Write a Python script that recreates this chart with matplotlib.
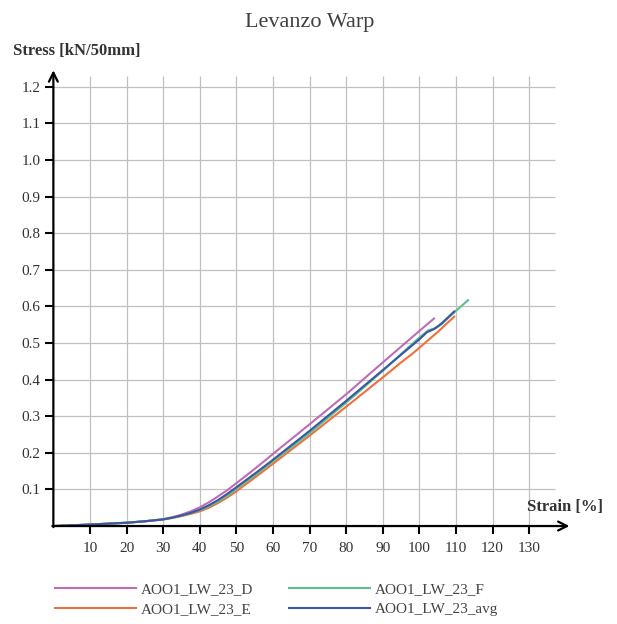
import matplotlib
matplotlib.use('Agg')
import matplotlib.pyplot as plt

plt.rcParams['font.family'] = ['Liberation Serif', 'DejaVu Serif']

# strain [%] / stress [kN/50mm] for each specimen
strain_d = [0, 10, 20, 25, 30, 32.5, 35, 37.5, 40, 42.5, 45, 47.5, 50, 55, 60, 70, 80, 90, 100, 104]
stress_d = [0, 0.004, 0.009, 0.013, 0.019, 0.024, 0.031, 0.040, 0.051, 0.065, 0.081, 0.098, 0.117,
            0.156, 0.197, 0.278, 0.360, 0.447, 0.533, 0.567]

strain_e = [0, 10, 20, 25, 30, 32.5, 35, 37.5, 40, 42.5, 45, 47.5, 50, 55, 60, 70, 80, 90, 95, 98, 100,
            105, 109.5]
stress_e = [0, 0.004, 0.009, 0.013, 0.018, 0.022, 0.027, 0.033, 0.040, 0.050, 0.063, 0.078, 0.095,
            0.132, 0.170, 0.247, 0.326, 0.406, 0.447, 0.470, 0.487, 0.530, 0.572]

strain_f = [0, 10, 20, 25, 30, 32.5, 35, 37.5, 40, 42.5, 45, 47.5, 50, 55, 60, 70, 80, 90, 95, 100,
            102.5, 104.5, 106, 110, 113.3]
stress_f = [0, 0.004, 0.009, 0.013, 0.018, 0.023, 0.028, 0.035, 0.043, 0.054, 0.067, 0.083, 0.102,
            0.138, 0.177, 0.254, 0.337, 0.424, 0.470, 0.515, 0.535, 0.541, 0.551, 0.588, 0.617]

strain_avg = [0, 10, 20, 25, 30, 32.5, 35, 37.5, 40, 42.5, 45, 47.5, 50, 55, 60, 70, 80, 90, 95, 100,
              102, 104, 106, 109.5]
stress_avg = [0, 0.004, 0.009, 0.013, 0.018, 0.023, 0.029, 0.036, 0.045, 0.057, 0.071, 0.088, 0.106,
              0.143, 0.181, 0.260, 0.342, 0.426, 0.468, 0.510, 0.529, 0.538, 0.553, 0.586]

names = ['AOO1_LW_23_D', 'AOO1_LW_23_E', 'AOO1_LW_23_F', 'AOO1_LW_23_avg']
colors = ['#BF6BB5', '#F0703A', '#5CBF8C', '#3A56A5']

x_ticks = [10, 20, 30, 40, 50, 60, 70, 80, 90, 100, 110, 120, 130]
y_ticks = [0.1, 0.2, 0.3, 0.4, 0.5, 0.6, 0.7, 0.8, 0.9, 1.0, 1.1, 1.2]

fig = plt.figure(figsize=(6.17, 6.24), dpi=100)
ax = fig.add_axes([0.0865, 0.157, 0.8424, 0.745])
ax.set_xlim(0, 142)
ax.set_ylim(0, 1.27)

# grid drawn by hand so it stops short of the arrows
ax.hlines(y_ticks, 0, 137, color='#c0c0c0', lw=0.9, zorder=1)
ax.vlines(x_ticks, 0, 1.23, color='#c0c0c0', lw=0.9, zorder=1)

series = [(strain_d, stress_d), (strain_e, stress_e), (strain_f, stress_f), (strain_avg, stress_avg)]
for (xs, ys), name, c in zip(series, names, colors):
    ax.plot(xs, ys, color=c, lw=1.5, label=name, zorder=3)

for s in ax.spines.values():
    s.set_visible(False)

# axes with arrow heads
ax.annotate('', xy=(141, 0), xytext=(-0.3, 0), xycoords='data',
            arrowprops=dict(arrowstyle='->', lw=1.6, color='black', mutation_scale=16,
                            shrinkA=0, shrinkB=0), annotation_clip=False, zorder=4)
ax.annotate('', xy=(0, 1.245), xytext=(0, -0.003), xycoords='data',
            arrowprops=dict(arrowstyle='->', lw=1.6, color='black', mutation_scale=16,
                            shrinkA=0, shrinkB=0), annotation_clip=False, zorder=4)

ax.set_xticks(x_ticks)
ax.set_yticks(y_ticks)
ax.set_xticklabels([str(t) for t in x_ticks])
ax.set_yticklabels(['%.1f' % t for t in y_ticks])
ax.tick_params(axis='x', length=5.5, width=1.5, pad=6, labelsize=11, labelcolor='#333333')
ax.tick_params(axis='y', length=6, width=1.5, pad=3, labelsize=11, labelcolor='#333333')

fig.text(0.502, 0.964, 'Levanzo Warp', ha='center', va='center', fontsize=16, color='#404040')
fig.text(0.021, 0.919, 'Stress [kN/50mm]', ha='left', va='center', fontsize=12,
         fontweight='bold', color='#333333')
fig.text(0.977, 0.188, 'Strain [%]', ha='right', va='center', fontsize=12,
         fontweight='bold', color='#333333')

fig.legend(loc='upper left', bbox_to_anchor=(0.080, 0.076), ncol=2, frameon=False,
           fontsize=11, handlelength=5.3, handletextpad=0.3, columnspacing=2.35,
           labelspacing=0.4, labelcolor='#444444', borderaxespad=0)

fig.savefig('out.png', dpi=100)
